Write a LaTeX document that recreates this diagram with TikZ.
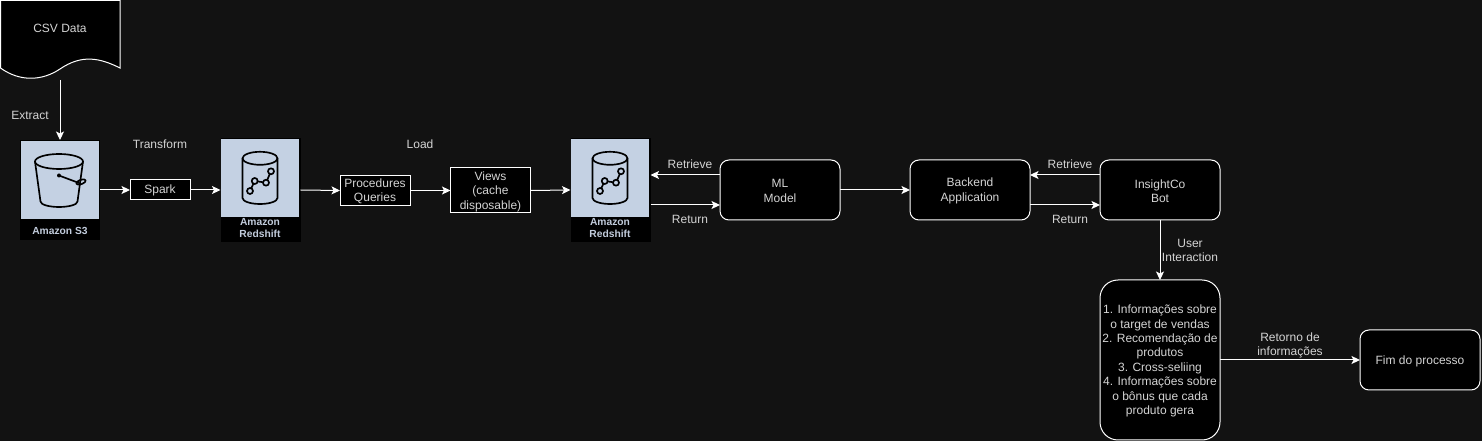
\documentclass[tikz,border=0pt]{standalone}
\usepackage{fontspec}
\setmainfont{Liberation Sans}
\usetikzlibrary{arrows.meta,positioning,calc}
\definecolor{bgc}{HTML}{121212}
\definecolor{iconbg}{HTML}{C4D1E3}
\definecolor{txt}{HTML}{D4D4D4}
\definecolor{awst}{HTML}{C2CCDC}
\def\pxu{0.75pt}
\tikzset{
  every node/.style={font=\fontsize{9pt}{10.8pt}\selectfont,text=txt,align=center,inner sep=0pt,outer sep=0pt},
  tdown/.style={text height=\dimexpr\ht\pgfnodeparttextbox+1.6pt\relax},
  sqbox/.style={draw=white,fill=black,line width=\pxu},
  rbox/.style={draw=white,fill=black,line width=\pxu,rounded corners=6.75pt,minimum width=120*\pxu,minimum height=60*\pxu,tdown},
  conn/.style={draw=white,line width=\pxu,-{Stealth[length=8.5*\pxu,width=8*\pxu,inset=2*\pxu]}},
  awsbox/.style={fill=black,minimum width=80*\pxu},
  iconline/.style={draw=black,line width=1.25pt,line join=round,line cap=round},
  awstxt/.style={font=\bfseries\fontsize{7.7pt}{8.7pt}\selectfont,text=awst}
}
\newcommand{\rsicon}[1]{%
  \begin{scope}[shift={(#1,0)}]
    \fill[iconbg] (1,139) rectangle (79,217);
    \draw[iconline] (22.5,158.3) arc[x radius=17.5,y radius=6.5,start angle=180,end angle=540];
    \draw[iconline] (22.5,158.3) -- (22.5,198) arc[x radius=17.5,y radius=6,start angle=180,end angle=0] -- (57.5,158.3);
    \draw[iconline] (30,191) -- (34.7,181) -- (46,182.7) -- (51,171.3);
    \foreach \a/\b in {30/191,34.7/181,46/182.7,51/171.3}
      \draw[iconline,fill=iconbg] (\a,\b) circle[radius=3];
  \end{scope}}
\begin{document}
\begin{tikzpicture}[x=\pxu,y=-\pxu]
\useasboundingbox[fill=bgc] (0,0) rectangle (1482,441);
% CSV
\draw[draw=white,fill=black,line width=\pxu] (0.5,0.5) -- (120,0.5) -- (120,68)
  .. controls (100,58) and (82,54) .. (60,69)
  .. controls (42,81) and (20,82) .. (0.5,68) -- cycle;
\node (csv) at (60,40) [minimum width=120*\pxu,minimum height=80*\pxu] {};
\node (csvtxt) at (60,28) {CSV Data};
% S3
\node (s3) at (60,190) [awsbox,minimum height=100*\pxu] {};
\fill[iconbg] (21,141) rectangle (99,219);
\draw[iconline] (35,161.5) arc[x radius=24,y radius=7.5,start angle=180,end angle=540];
\draw[iconline] (35,161.5) -- (40.5,201.5) arc[x radius=18.5,y radius=5.5,start angle=180,end angle=0] -- (83,161.5);
\draw[iconline] (59,175.5) -- (79,183);
\draw[iconline,rotate around={20:(81,182)}] (81,182) ellipse[x radius=5,y radius=2.2];
\fill[black] (59,175.5) circle[radius=2];
\node (s3lbl) at (60,231) [awstxt] {Amazon S3};
% Spark etc
\node (spark) at (160,190) [sqbox,minimum width=60*\pxu,minimum height=20*\pxu] {Spark};
% Redshift 1
\node (rs1) at (260.5,190) [awsbox,minimum height=104*\pxu] {};
\rsicon{220}
\node (rs1lbl) at (260,228) [awstxt] {Amazon\\Redshift};
\node (proc) at (375,190.5) [sqbox,tdown,minimum width=70*\pxu,minimum height=30*\pxu] {Procedures\\Queries};
\node (views) at (490.5,190.5) [sqbox,tdown,minimum width=80*\pxu,minimum height=45*\pxu] {Views\\(cache\\disposable)};
% Redshift 2
\node (rs2) at (610.5,190) [awsbox,minimum height=104*\pxu] {};
\rsicon{570}
\node (rs2lbl) at (610,228) [awstxt] {Amazon\\Redshift};
% Rounded
\node (ml) at (780,190) [rbox] {ML\\Model};
\node (be) at (970,190) [rbox] {Backend\\Application};
\node (bot) at (1160,190) [rbox] {InsightCo\\Bot};
\node (info) at (1160,360) [rbox,rounded corners=13.5pt,minimum height=160*\pxu] {1. Informações sobre\\o target de vendas\\2. Recomendação de\\produtos\\3. Cross-seliing\\4. Informações sobre\\o bônus que cada\\produto gera};
\node (fim) at (1420,360) [rbox] {Fim do processo};
% Connectors
\draw[conn] (csv.south) -- (s3.north);
\draw[conn] (s3.east) -- (spark.west);
\draw[conn] (spark.east) -- (rs1.west);
\draw[conn] (rs1.east) -- (proc.west);
\draw[conn] (proc.east) -- (views.west);
\draw[conn] (views.east) -- (rs2.west);
\draw[conn] ([yshift=11.25pt]ml.west) -- ([yshift=11.25pt]rs2.east);
\draw[conn] ([yshift=-11.25pt]rs2.east) -- ([yshift=-11.25pt]ml.west);
\draw[conn] (ml.east) -- (be.west);
\draw[conn] ([yshift=11.25pt]bot.west) -- ([yshift=11.25pt]be.east);
\draw[conn] ([yshift=-11.25pt]be.east) -- ([yshift=-11.25pt]bot.west);
\draw[conn] (bot.south) -- (info.north);
\draw[conn] (info.east) -- (fim.west);
% Labels
\node (lext) at (30,115) {Extract};
\node (ltr) at (160,144.5) {Transform};
\node (lload) at (420,144.5) {Load};
\node (lret1) at (690,164.5) {Retrieve};
\node (lrn1) at (690,219.5) {Return};
\node (lret2) at (1070,164.5) {Retrieve};
\node (lrn2) at (1070,219.5) {Return};
\node (lui) at (1190,250.5) {User\\Interaction};
\node (lri) at (1290,345.5) {Retorno de\\informações};
\end{tikzpicture}
\end{document}
